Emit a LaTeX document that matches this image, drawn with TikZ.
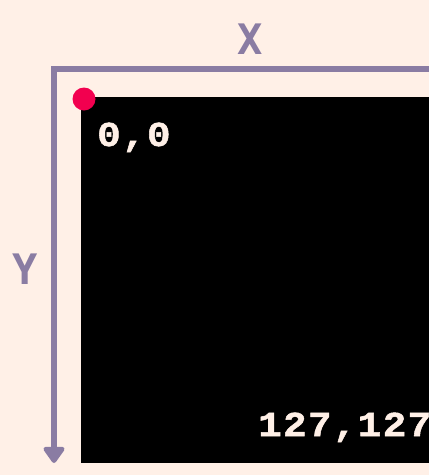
\documentclass[tikz,border=0pt]{standalone}
\usepackage{fontspec}
\usetikzlibrary{arrows.meta}
\newfontfamily\coordfont[LetterSpace=4, FakeStretch=1.12, BoldFeatures={FakeBold=1.5}]{Liberation Mono}
\newfontfamily\axisfont{DejaVu Sans Mono}
\definecolor{bgpeach}{HTML}{FFF0E7}
\definecolor{axispurple}{HTML}{8A7CA3}
\definecolor{dotred}{HTML}{F2004F}
\tikzset{
  axisline/.style={draw=axispurple, line width=6pt, line join=miter},
  axislabel/.style={text=axispurple, font=\axisfont\bfseries\fontsize{42}{42}\selectfont, inner sep=0pt},
  coordlabel/.style={text=bgpeach, font=\coordfont\bfseries\fontsize{35}{35}\selectfont, inner sep=0pt, anchor=base west},
}
\begin{document}
\begin{tikzpicture}[x=1pt,y=-1pt]
  \useasboundingbox (0,0) rectangle (429,475);
  \clip (0,0) rectangle (429,475);
  \fill[bgpeach] (0,0) rectangle (429,475);
  \fill[black] (81,97) rectangle (440,463);
  \coordinate (xend) at (440,69);
  \coordinate (corner) at (54,69);
  \coordinate (yend) at (54,463);
  \draw[axisline, -{Triangle[width=24pt,length=18pt,round]}] (xend) -- (corner) -- (yend);
  \fill[dotred] (84,99) circle (11.5);
  \node[axislabel] (xlab) at (250.5,39.5) {X};
  \node[axislabel] (ylab) at (25.5,269) {Y};
  \node[coordlabel] (origin) at (97,146) {0,0};
  \node[coordlabel] (far) at (258,436) {127,127};
\end{tikzpicture}
\end{document}
